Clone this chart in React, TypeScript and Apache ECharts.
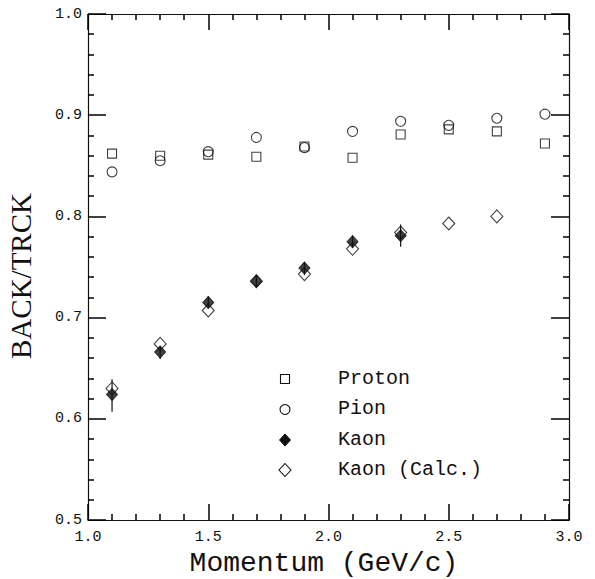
import React, { useEffect, useRef } from "react";
import * as echarts from "echarts";

const momentum = [1.1, 1.3, 1.5, 1.7, 1.9, 2.1, 2.3, 2.5, 2.7, 2.9];
const proton = [0.862, 0.860, 0.861, 0.859, 0.869, 0.858, 0.881, 0.886, 0.884, 0.872];
const pion = [0.844, 0.855, 0.864, 0.878, 0.868, 0.884, 0.894, 0.890, 0.897, 0.901];
const kaonMomentum = [1.1, 1.3, 1.5, 1.7, 1.9, 2.1, 2.3];
const kaon = [0.624, 0.666, 0.715, 0.736, 0.749, 0.775, 0.781];
const kaonErrLow = [0.607, 0.659, 0.709, 0.730, 0.742, 0.769, 0.770];
const kaonErrHigh = [0.639, 0.672, 0.721, 0.741, 0.755, 0.781, 0.792];
const kaonCalcMomentum = [1.1, 1.3, 1.5, 1.7, 1.9, 2.1, 2.3, 2.5, 2.7];
const kaonCalc = [0.630, 0.674, 0.707, 0.736, 0.743, 0.768, 0.784, 0.793, 0.800];
const legendNames = ["Proton", "Pion", "Kaon", "Kaon (Calc.)"];
const xTitle = "Momentum (GeV/c)";
const yTitle = "BACK/TRCK";

const MONO = "'Courier New', 'Liberation Mono', monospace";
const SERIF = "'Liberation Serif', 'Times New Roman', serif";
const INK = "#111";
const TICK = "#000";

function ticks(major: number): any {
  return {
    axisTick: { show: true, inside: true, length: major, lineStyle: { color: TICK, width: 1.5 } },
    minorTick: { show: true, splitNumber: 5, length: 6, lineStyle: { color: TICK, width: 1.5 } },
  };
}

export default function App() {
  const ref = useRef<HTMLDivElement>(null);
  useEffect(() => {
    if (!ref.current) return;
    const chart = echarts.init(ref.current, null, { renderer: "svg" });
    const pair = (xs: number[], ys: number[]) => xs.map((x, i) => [x, ys[i]]);
    const legendY = [379, 409.5, 440, 470];
    const iconX = 285;
    const graphics: any[] = [];
    legendY.forEach((y, i) => {
      graphics.push({
        type: "text",
        left: 338,
        top: y - 11,
        style: { text: legendNames[i], font: `20px ${MONO}`, fill: INK },
      });
    });
    graphics.push({
      type: "rect",
      shape: { x: iconX - 4.5, y: legendY[0] - 4.5, width: 9, height: 9 },
      style: { fill: "none", stroke: INK, lineWidth: 1.1 },
    });
    graphics.push({
      type: "circle",
      shape: { cx: iconX, cy: legendY[1], r: 5 },
      style: { fill: "none", stroke: INK, lineWidth: 1.1 },
    });
    graphics.push({
      type: "polygon",
      shape: { points: [[iconX, legendY[2] - 6], [iconX + 5.5, legendY[2]], [iconX, legendY[2] + 6], [iconX - 5.5, legendY[2]]] },
      style: { fill: INK, stroke: INK, lineWidth: 1 },
    });
    graphics.push({
      type: "polygon",
      shape: { points: [[iconX, legendY[3] - 6.5], [iconX + 6, legendY[3]], [iconX, legendY[3] + 6.5], [iconX - 6, legendY[3]]] },
      style: { fill: "none", stroke: INK, lineWidth: 1.1 },
    });
    graphics.push({
      type: "text",
      x: 21,
      y: 276,
      rotation: Math.PI / 2,
      style: {
        text: yTitle,
        font: `29px ${SERIF}`,
        fill: INK,
        align: "center",
        verticalAlign: "middle",
      },
    });

    const xCommon = {
      type: "value",
      min: 1.0,
      max: 3.0,
      interval: 0.5,
      axisLine: { show: true, onZero: false, lineStyle: { color: INK, width: 1.2 } },
      splitLine: { show: false },
      minorSplitLine: { show: false },
    };
    const yCommon = {
      type: "value",
      min: 0.5,
      max: 1.0,
      interval: 0.1,
      axisLine: { show: true, onZero: false, lineStyle: { color: INK, width: 1.2 } },
      splitLine: { show: false },
      minorSplitLine: { show: false },
    };

    chart.setOption({
      animation: false,
      backgroundColor: "#fff",
      grid: { left: 88, right: 26, top: 14, bottom: 59, containLabel: false, outerBoundsMode: "none" },
      xAxis: [
        {
          ...xCommon,
          ...ticks(16),
          position: "bottom",
          name: xTitle,
          nameLocation: "middle",
          nameGap: 26,
          nameTextStyle: { fontFamily: MONO, fontSize: 28, lineHeight: 28, color: INK, padding: [0, 9, 0, 0] },
          axisLabel: {
            show: true,
            margin: 10,
            fontFamily: MONO,
            fontSize: 15,
            color: INK,
            formatter: (v: number) => v.toFixed(1),
          },
        },
        { ...xCommon, ...ticks(16), position: "top", axisLabel: { show: false } },
      ],
      yAxis: [
        {
          ...yCommon,
          ...ticks(18),
          position: "left",
          axisLabel: {
            show: true,
            margin: 6,
            fontFamily: MONO,
            fontSize: 15,
            color: INK,
            formatter: (v: number) => v.toFixed(1),
          },
        },
        { ...yCommon, ...ticks(18), position: "right", axisLabel: { show: false } },
      ],
      graphic: graphics,
      series: [
        {
          name: "Proton",
          type: "scatter",
          data: pair(momentum, proton),
          symbol: "rect",
          symbolSize: 9,
          itemStyle: { color: "rgba(0,0,0,0)", borderColor: INK, borderWidth: 1.1 },
          z: 3,
        },
        {
          name: "Pion",
          type: "scatter",
          data: pair(momentum, pion),
          symbol: "circle",
          symbolSize: 10,
          itemStyle: { color: "rgba(0,0,0,0)", borderColor: INK, borderWidth: 1.1 },
          z: 3,
        },
        {
          name: "Kaon (Calc.)",
          type: "scatter",
          data: pair(kaonCalcMomentum, kaonCalc),
          symbol: "diamond",
          symbolSize: [12, 13],
          itemStyle: { color: "#fff", borderColor: INK, borderWidth: 1.1 },
          z: 3,
        },
        {
          name: "Kaon error",
          type: "custom",
          data: kaonMomentum.map((x, i) => [x, kaonErrLow[i], kaonErrHigh[i]]),
          encode: { x: 0, y: [1, 2] },
          renderItem: (params: any, api: any) => {
            const x = api.value(0);
            const p1 = api.coord([x, api.value(1)]);
            const p2 = api.coord([x, api.value(2)]);
            return {
              type: "line",
              shape: { x1: p1[0], y1: p1[1], x2: p2[0], y2: p2[1] },
              style: { stroke: INK, lineWidth: 1.2 },
            };
          },
          z: 4,
        },
        {
          name: "Kaon",
          type: "scatter",
          data: pair(kaonMomentum, kaon),
          symbol: "diamond",
          symbolSize: [11, 12],
          itemStyle: { color: INK, borderColor: INK, borderWidth: 1 },
          z: 5,
        },
      ],
    });
    return () => chart.dispose();
  }, []);
  return (
    <div
      ref={ref}
      style={{ position: "fixed", left: 0, top: 0, width: 595, height: 579, background: "#fff" }}
    />
  );
}
